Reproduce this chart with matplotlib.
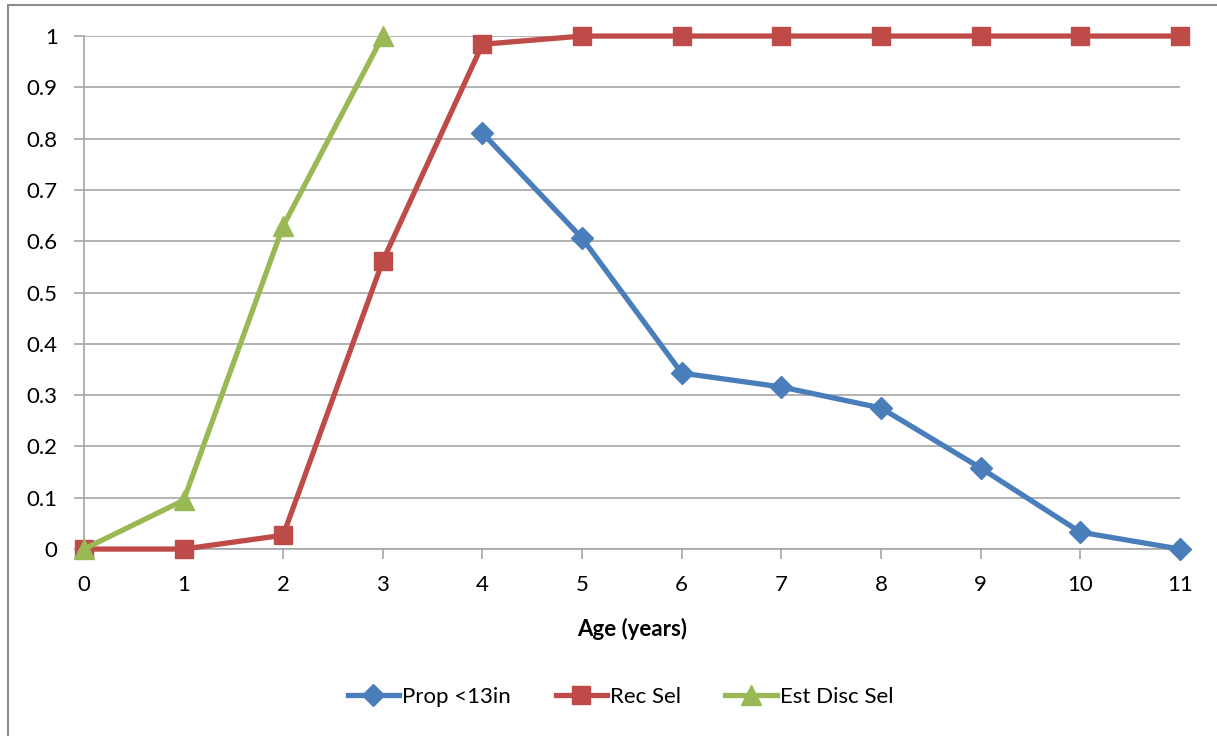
import matplotlib.pyplot as plt
from matplotlib.patches import Rectangle

plt.rcParams['font.family'] = ['Lato', 'DejaVu Sans']

ages = list(range(12))
prop_13in = [None, None, None, None, 0.811, 0.606, 0.343, 0.316, 0.275, 0.158, 0.033, 0.0]
rec_sel = [0.0, 0.0, 0.027, 0.562, 0.984, 1.0, 1.0, 1.0, 1.0, 1.0, 1.0, 1.0]
est_disc_sel = [0.0, 0.095, 0.63, 1.0]
y_ticks = [0, 0.1, 0.2, 0.3, 0.4, 0.5, 0.6, 0.7, 0.8, 0.9, 1]

fig = plt.figure(figsize=(12.17, 7.36), dpi=100)
ax = fig.add_axes([0.069, 0.254, 0.9005, 0.697])

# grey frame round the chart
fig.patches.append(Rectangle((8 / 1217, -0.01), 1.02, 1.003, transform=fig.transFigure,
                             fill=False, edgecolor='#8c8c8c', linewidth=1.5))

bx = [a for a, v in zip(ages, prop_13in) if v is not None]
by = [v for v in prop_13in if v is not None]
ax.plot(bx, by, color='#4a7ebb', lw=3.8, marker='D', ms=11, label='Prop <13in', clip_on=False, zorder=3)
ax.plot(ages, rec_sel, color='#be4b48', lw=3.8, marker='s', ms=13, label='Rec Sel', clip_on=False, zorder=3)
ax.plot(ages[:len(est_disc_sel)], est_disc_sel, color='#98b954', lw=3.8, marker='^', ms=15,
        label='Est Disc Sel', clip_on=False, zorder=4)

ax.set_xlim(0, 11)
ax.set_ylim(0, 1)
ax.set_xticks(ages)
ax.set_yticks(y_ticks)
ax.set_yticklabels(['0', '0.1', '0.2', '0.3', '0.4', '0.5', '0.6', '0.7', '0.8', '0.9', '1'])
ax.yaxis.grid(True, color='#a6a6a6', lw=1.2)
ax.set_axisbelow(True)
for s in ['top', 'right']:
    ax.spines[s].set_visible(False)
for s in ['left', 'bottom']:
    ax.spines[s].set_color('#a6a6a6')
    ax.spines[s].set_linewidth(1.2)
ax.tick_params(axis='both', colors='#a6a6a6', labelcolor='black', labelsize=16, length=7, width=1.2)
ax.tick_params(axis='y', pad=12)
ax.tick_params(axis='x', pad=12)
ax.set_xlabel('Age (years)', fontsize=16, fontweight='bold', labelpad=16)

fig.legend(loc='center', bbox_to_anchor=(0.51, 0.053), ncol=3, frameon=False, fontsize=16,
           handlelength=2.3, columnspacing=2.0, handletextpad=0.15)

fig.savefig('out.png', dpi=100)
